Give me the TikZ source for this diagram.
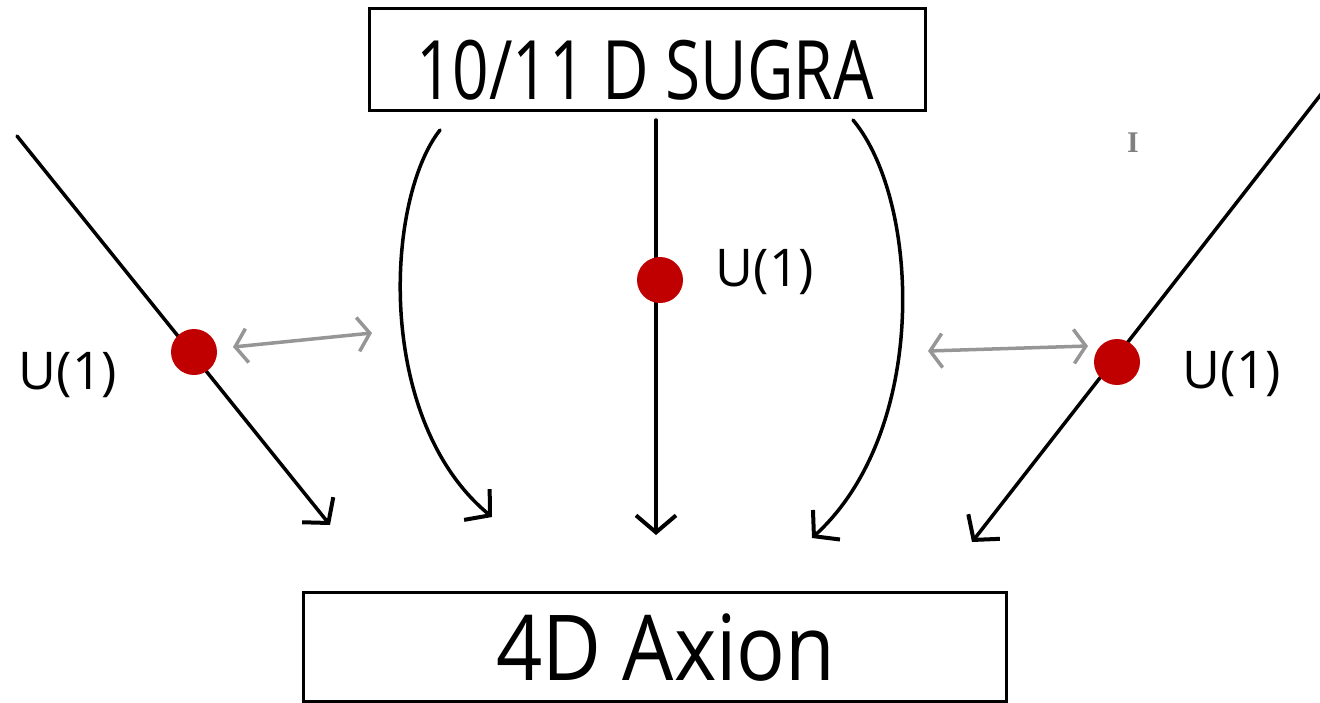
\documentclass[tikz,border=0pt]{standalone}
\usepackage{fontspec}
\setmainfont{Open Sans}
\newfontfamily\cursorfont{Liberation Serif}
\usetikzlibrary{arrows.meta}
\definecolor{dotred}{RGB}{192,0,0}
\definecolor{linkgray}{RGB}{150,150,150}
\begin{document}
\begin{tikzpicture}[x=1pt,y=-1pt,
  box/.style={draw=black, line width=3pt, inner sep=0pt},
  flow/.style={draw=black, line width=3.5pt, line cap=round, -{Straight Barb[length=17pt,width=40pt,line width=4pt]}},
  link/.style={draw=linkgray, line width=3.5pt, line cap=round, {Straight Barb[length=12pt,width=34pt,line width=3.5pt]}-{Straight Barb[length=12pt,width=34pt,line width=3.5pt]}},
  dot/.style={circle, fill=dotred, inner sep=0pt, minimum size=46pt},
  lab/.style={font=\fontsize{52}{58}\selectfont, inner sep=0pt},
  title/.style={inner sep=0pt}
]
\useasboundingbox (0,0) rectangle (1320,702);
% boxes
\node[box, minimum width=556pt, minimum height=102pt] (top) at (647,59) {};
\node[title, font=\fontsize{82}{90}\selectfont] (toptext) at (645,70) {\scalebox{0.78}[1]{10/11 D SUGRA}};
\node[box, minimum width=703pt, minimum height=109pt] (bot) at (654.5,646.5) {};
\node[title, font=\fontsize{91}{100}\selectfont] (bottext) at (666,648) {\scalebox{0.89}[1]{4D Axion}};
% coordinates
\coordinate (l1s) at (17,136);
\coordinate (l1e) at (330,525);
\coordinate (c1s) at (440,130);
\coordinate (c1e) at (492,517);
\coordinate (ms) at (656,120);
\coordinate (me) at (656,535);
\coordinate (c2s) at (853,120);
\coordinate (c2e) at (812,538);
\coordinate (r1s) at (1322,93);
\coordinate (r1e) at (972,542);
% flows
\draw[flow] (l1s) -- (l1e);
\draw[flow] (c1s) .. controls (385,200) and (375,420) .. (c1e);
\draw[flow] (ms) -- (me);
\draw[flow] (c2s) .. controls (920,200) and (930,430) .. (c2e);
\draw[flow] (r1s) -- (r1e);
% dots
\node[dot] (d1) at (194,352) {};
\node[dot] (d2) at (660,280) {};
\node[dot] (d3) at (1117,362) {};
% labels
\node[lab] (u1) at (68,375) {U(1)};
\node[lab] (u2) at (765,272) {U(1)};
\node[lab] (u3) at (1232,374) {U(1)};
% gray links
\coordinate (g1a) at (233,347);
\coordinate (g1b) at (372,333);
\coordinate (g2a) at (928,351);
\coordinate (g2b) at (1088,346);
\draw[link] (g1a) -- (g1b);
\draw[link] (g2a) -- (g2b);
% cursor
\node[font=\cursorfont\bfseries\fontsize{30}{30}\selectfont, text=gray, inner sep=0pt] (cur) at (1133,143) {I};
\end{tikzpicture}
\end{document}
